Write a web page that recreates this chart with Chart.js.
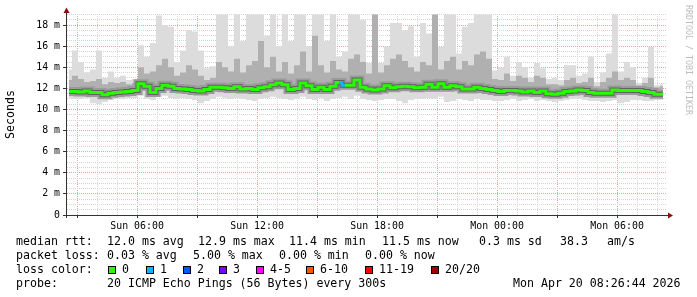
<!DOCTYPE html>
<html>
<head>
<meta charset="UTF-8">
<title>SmokePing</title>
<script src="https://cdn.jsdelivr.net/npm/chart.js"></script>
<style>
  html, body { margin: 0; padding: 0; background: #fff; }
</style>
</head>
<body>
<canvas id="chart" width="697" height="297"></canvas>
<script>
// time axis in hours since Sun 00:00, one value every 18 min
const startH = 2.4456;   // Sun 02:26:44
const endH = 32.4456;    // Mon 08:26:44
const stepH = 0.3;

// median rtt (ms)
const median = [
  11.7, 11.7, 11.65, 11.75, 11.6, 11.6, 11.4, 11.55, 11.6, 11.65,
  11.7, 11.8, 12.45, 12.2, 11.6, 12.0, 12.3, 12.2, 12.0, 11.95,
  11.9, 11.8, 11.75, 11.9, 12.1, 12.1, 12.05, 12.0, 12.15, 11.95,
  12.0, 11.9, 12.05, 12.15, 12.35, 12.5, 12.35, 11.9, 12.0, 12.5,
  12.25, 11.9, 12.1, 11.9, 12.2, 12.55, 12.3, 12.3, 12.8, 12.1,
  11.95, 11.85, 11.95, 12.25, 12.05, 12.15, 12.2, 12.15, 12.05, 12.1,
  12.4, 12.1, 12.45, 12.1, 12.25, 12.15, 11.95, 11.95, 12.1, 12.0,
  11.9, 11.8, 11.7, 11.8, 11.8, 11.75, 11.65, 11.75, 11.6, 11.75,
  11.5, 11.45, 11.55, 11.7, 11.75, 11.85, 11.8, 11.6, 11.55, 11.55,
  11.55, 11.85, 11.8, 11.8, 11.8, 11.8, 11.7, 11.6, 11.45, 11.45
];
// slowest ping (top of the smoke)
const smokeTop = [
  13.8, 15.6, 14.5, 13.5, 13.8, 15.6, 13.0, 13.6, 13.0, 13.2,
  12.8, 12.9, 16.1, 15.0, 16.3, 18.9, 18.0, 17.85, 14.5, 15.6,
  17.5, 17.4, 15.6, 13.9, 14.1, 19.0, 19.0, 16.0, 19.0, 16.5,
  19.0, 19.0, 19.0, 17.0, 19.0, 16.0, 19.0, 16.5, 19.0, 19.0,
  16.0, 19.0, 19.0, 16.5, 19.0, 15.0, 15.5, 19.0, 19.0, 18.5,
  14.4, 19.0, 14.4, 15.95, 18.2, 18.2, 17.5, 17.9, 15.0, 18.2,
  17.2, 19.0, 15.95, 19.0, 19.0, 15.3, 17.85, 18.2, 19.0, 19.0,
  19.0, 13.7, 14.0, 15.0, 13.2, 14.5, 14.0, 13.0, 14.4, 13.9,
  12.9, 13.0, 12.8, 14.2, 14.2, 13.2, 13.4, 15.0, 12.6, 13.5,
  15.3, 19.0, 13.6, 14.5, 14.0, 12.5, 13.0, 15.95, 12.3, 12.4
];
// upper edge of the denser smoke
const smokeMid = [
  12.8, 13.2, 12.9, 12.6, 12.7, 12.9, 12.4, 12.6, 12.5, 12.6,
  12.4, 12.5, 14.0, 13.4, 13.6, 14.2, 14.8, 14.0, 13.2, 13.5,
  14.2, 13.8, 13.2, 12.8, 13.0, 14.5, 14.0, 13.6, 14.8, 13.5,
  14.2, 14.6, 16.5, 14.0, 15.0, 13.6, 14.5, 13.4, 14.2, 15.5,
  13.6, 17.0, 14.2, 13.5, 14.6, 13.8, 13.6, 14.8, 15.2, 14.5,
  13.4, 19.0, 13.5, 14.2, 14.8, 15.2, 14.6, 14.0, 13.6, 14.5,
  14.2, 19.0, 13.8, 14.6, 15.0, 13.8, 14.6, 14.2, 15.2, 15.5,
  14.8, 12.9, 12.8, 13.4, 12.7, 13.2, 13.0, 12.6, 13.2, 13.0,
  12.4, 12.4, 12.3, 12.8, 13.0, 12.5, 12.6, 13.0, 12.2, 12.6,
  13.0, 13.6, 12.8, 13.0, 12.8, 12.3, 12.5, 13.0, 12.1, 12.2
];
// fastest ping (bottom of the smoke)
const smokeLow = [
  11.1, 11.0, 11.0, 11.1, 10.6, 10.5, 10.7, 10.9, 11.0, 11.0,
  11.1, 11.1, 11.3, 11.0, 10.9, 11.2, 11.3, 11.1, 11.0, 11.1,
  11.0, 10.9, 10.6, 10.8, 11.0, 11.2, 11.1, 11.0, 11.1, 11.0,
  10.9, 10.8, 11.0, 11.1, 11.2, 11.1, 11.0, 10.9, 11.0, 11.2,
  11.0, 10.9, 11.1, 10.8, 11.0, 11.1, 11.2, 11.0, 11.3, 11.0,
  10.9, 10.8, 10.9, 11.0, 11.0, 10.8, 10.6, 10.9, 11.0, 11.0,
  11.1, 11.0, 11.2, 10.7, 10.8, 11.0, 10.9, 10.8, 11.0, 10.9,
  10.9, 10.8, 10.8, 10.9, 11.0, 10.8, 10.9, 11.0, 10.8, 10.9,
  10.8, 10.7, 10.8, 10.9, 11.0, 11.0, 10.9, 10.8, 10.8, 10.7,
  10.8, 10.9, 10.6, 10.7, 10.9, 10.9, 10.8, 10.8, 10.9, 10.9
];
// lost pings out of 20
const lossCount = [
  0, 0, 0, 0, 0, 0, 0, 0, 0, 0,
  0, 0, 0, 0, 0, 0, 0, 0, 0, 0,
  0, 0, 0, 0, 0, 0, 0, 0, 0, 0,
  0, 0, 0, 0, 0, 0, 0, 0, 0, 0,
  0, 0, 0, 0, 0, 0, 1, 0, 0, 0,
  0, 0, 0, 0, 0, 0, 0, 0, 0, 0,
  0, 0, 0, 0, 0, 0, 0, 0, 0, 0,
  0, 0, 0, 0, 0, 0, 0, 0, 0, 0,
  0, 0, 0, 0, 0, 0, 0, 0, 0, 0,
  0, 0, 0, 0, 0, 0, 0, 0, 0, 0
];

const labelHours = [6, 12, 18, 24, 30];
const labelText = ['Sun 06:00', 'Sun 12:00', 'Sun 18:00', 'Mon 00:00', 'Mon 06:00'];

const lossNames = ['0', '1', '2', '3', '4-5', '6-10', '11-19', '20/20'];
const lossUpTo = [0, 1, 2, 3, 5, 10, 19, 20];
const lossColors = ['#26ff00', '#00b8ff', '#0059ff', '#7e00ff', '#ff00ff', '#ff5500', '#ff0000', '#a00000'];

const rttStats = ['12.0 ms avg', '12.9 ms max', '11.4 ms min', '11.5 ms now', '0.3 ms sd', '38.3', 'am/s'];
const lossStats = ['0.03 % avg', '5.00 % max', '0.00 % min', '0.00 % now'];
const probeText = '20 ICMP Echo Pings (56 Bytes) every 300s';
const stampText = 'Mon Apr 20 08:26:44 2026';

const MONO = '"DejaVu Sans Mono", monospace';
const minorGrid = '#d4d4d4';
const majorGrid = '#e6a4a4';

const xs = median.map((_, i) => startH + (i + 0.5) * stepH);
const pts = arr => arr.map((v, i) => ({ x: xs[i], y: v }));
const lossColor = n => lossColors[lossUpTo.findIndex(u => n <= u)];

const hourTicks = [];
for (let h = 3; h <= 32; h++) hourTicks.push(h);
const msTicks = [];
for (let k = 0; k <= 38; k++) msTicks.push(k / 2);

const base = { pointRadius: 0, stepped: 'middle', fill: false, borderWidth: 0 };

const decorations = {
  id: 'decorations',
  afterDraw(chart) {
    const ctx = chart.ctx;
    const a = chart.chartArea;
    ctx.save();
    // axis extensions and arrows
    ctx.strokeStyle = '#333';
    ctx.lineWidth = 1;
    ctx.beginPath();
    ctx.moveTo(a.left + 0.5, 12); ctx.lineTo(a.left + 0.5, a.bottom + 3);
    ctx.moveTo(a.left - 3, a.bottom + 0.5); ctx.lineTo(a.right + 3, a.bottom + 0.5);
    ctx.stroke();
    ctx.fillStyle = '#8a1010';
    ctx.beginPath();
    ctx.moveTo(a.left + 0.5, 7.5); ctx.lineTo(a.left - 2.5, 13); ctx.lineTo(a.left + 3.5, 13);
    ctx.closePath(); ctx.fill();
    ctx.beginPath();
    ctx.moveTo(a.right + 7, a.bottom + 0.5); ctx.lineTo(a.right + 2, a.bottom - 2.5); ctx.lineTo(a.right + 2, a.bottom + 3.5);
    ctx.closePath(); ctx.fill();

    // watermark
    ctx.save();
    ctx.translate(688, 5);
    ctx.rotate(Math.PI / 2);
    ctx.fillStyle = '#bdbdbd';
    ctx.font = '8.3px ' + MONO;
    ctx.textBaseline = 'middle';
    ctx.fillText('RRDTOOL / TOBI OETIKER', 0, 0);
    ctx.restore();

    // legend block
    ctx.fillStyle = '#000';
    ctx.font = '11.6px ' + MONO;
    ctx.textBaseline = 'alphabetic';
    ctx.fillText('median rtt:', 16, 245);
    [107, 198, 289, 382, 479, 560, 607].forEach((x, i) => ctx.fillText(rttStats[i], x, 245));
    ctx.fillText('packet loss:', 16, 259);
    [107, 193, 279, 365].forEach((x, i) => ctx.fillText(lossStats[i], x, 259));
    ctx.fillText('loss color:', 16, 273);
    [108, 146, 183, 219, 256, 306, 365, 431].forEach((x, i) => {
      ctx.fillStyle = '#000';
      ctx.fillRect(x, 266, 8, 8);
      ctx.fillStyle = lossColors[i];
      ctx.fillRect(x + 1, 267, 6, 6);
      ctx.fillStyle = '#000';
      ctx.fillText(lossNames[i], x + 14, 273);
    });
    ctx.fillText('probe:', 16, 287);
    ctx.fillText(probeText, 107, 287);
    ctx.fillText(stampText, 513, 287);
    ctx.restore();
  }
};

new Chart(document.getElementById('chart'), {
  type: 'line',
  data: {
    datasets: [
      Object.assign({}, base, { data: pts(smokeTop), fill: { target: 1 }, backgroundColor: '#dcdcdc', order: 10 }),
      Object.assign({}, base, { data: pts(smokeLow), order: 9 }),
      Object.assign({}, base, { data: pts(smokeMid), fill: { target: 3 }, backgroundColor: '#b0b0b0', order: 8 }),
      Object.assign({}, base, { data: pts(median), borderWidth: 9, borderColor: '#9a9a9a', order: 7 }),
      Object.assign({}, base, { data: pts(median), borderWidth: 5, borderColor: '#626262', order: 6 }),
      Object.assign({}, base, {
        data: pts(median), borderWidth: 3, borderColor: lossColors[0], order: 5,
        segment: { borderColor: c => lossColor(lossCount[c.p1DataIndex]) }
      })
    ]
  },
  options: {
    responsive: false,
    animation: false,
    devicePixelRatio: 1,
    layout: { padding: { top: 14, right: 31, left: 0, bottom: 0 } },
    plugins: { legend: { display: false }, tooltip: { enabled: false } },
    scales: {
      x: {
        type: 'linear', min: startH, max: endH, z: 1,
        afterBuildTicks: ax => { ax.ticks = hourTicks.map(v => ({ value: v })); },
        afterFit: ax => { ax.height = 82; },
        ticks: {
          autoSkip: false, maxRotation: 0, padding: 2, color: '#000',
          font: { family: MONO, size: 9.9 },
          callback: v => { const k = labelHours.indexOf(v); return k < 0 ? '' : labelText[k]; }
        },
        grid: {
          color: c => c.tick.value % 3 === 0 ? majorGrid : minorGrid,
          tickColor: c => c.tick.value % 3 === 0 ? '#333' : 'rgba(0,0,0,0)',
          tickLength: 3, lineWidth: 1, borderDash: [1, 1]
        },
        border: { color: '#333', dash: [1, 1] }
      },
      y: {
        min: 0, max: 19.05, z: 1,
        afterBuildTicks: ax => { ax.ticks = msTicks.map(v => ({ value: v })); },
        afterFit: ax => { ax.width = 66; },
        ticks: {
          autoSkip: false, padding: 3, color: '#000',
          font: { family: MONO, size: 9.9 },
          callback: v => v % 2 ? '' : (v === 0 ? '0' : v + ' m')
        },
        grid: {
          color: c => c.tick.value === 0 ? 'rgba(0,0,0,0)' : (c.tick.value % 2 === 0 ? majorGrid : minorGrid),
          tickColor: c => c.tick.value % 2 === 0 ? '#333' : 'rgba(0,0,0,0)',
          tickLength: 3, lineWidth: 1, borderDash: [1, 1]
        },
        border: { color: '#333', dash: [1, 1] },
        title: {
          display: true, text: 'Seconds', color: '#000',
          font: { family: MONO, size: 11.6 }, padding: { top: 4, bottom: 0 }
        }
      }
    }
  },
  plugins: [decorations]
});
</script>
</body>
</html>
